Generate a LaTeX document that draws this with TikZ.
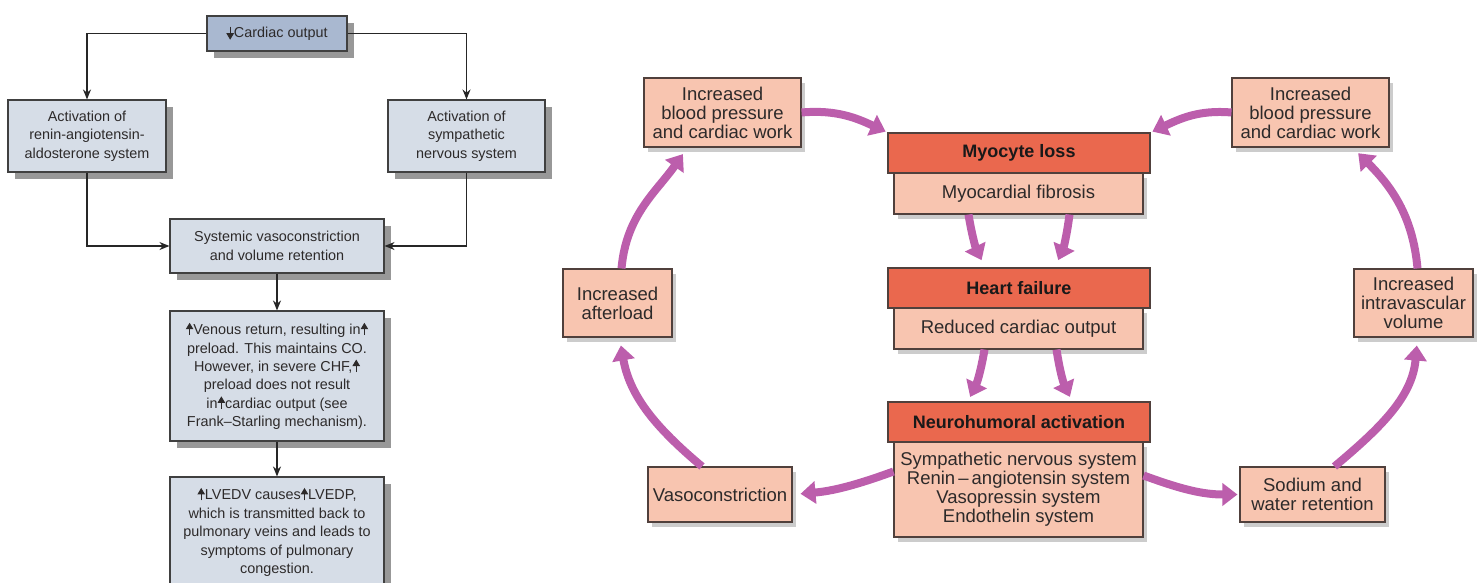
\documentclass[tikz,border=0pt]{standalone}
\usepackage{fontspec}
\setmainfont{Liberation Sans}
\usetikzlibrary{arrows.meta, shadows}

\definecolor{lfill}{RGB}{214,221,231}
\definecolor{cofill}{RGB}{169,184,208}
\definecolor{lshade}{RGB}{152,152,152}
\definecolor{pfill}{RGB}{248,197,176}
\definecolor{hfill}{RGB}{234,104,78}
\definecolor{rline}{RGB}{80,64,60}
\definecolor{flowc}{RGB}{188,94,172}
\definecolor{ink}{RGB}{45,42,42}

% small arrows inside the text
\newcommand{\upa}{\tikz[baseline=0pt]\draw[line width=0.9pt,-{Triangle[length=6.5pt,width=7.5pt]}] (0pt,-0.5pt) -- (0pt,12pt);}
\newcommand{\downa}{\tikz[baseline=0pt]\draw[line width=0.9pt,-{Triangle[length=6.5pt,width=7.5pt]}] (0pt,11pt) -- (0pt,-2pt);}

\begin{document}
\begin{tikzpicture}[
    x=1pt, y=1pt,
    lbox/.style={draw=black!75, line width=1.1pt, fill=lfill, text=ink, align=center, inner sep=0pt,
        font=\fontsize{14.4}{18.4}\selectfont,
        general shadow={fill=lshade, shadow xshift=7pt, shadow yshift=-7pt}},
    link/.style={line width=1.3pt, draw=black!85, -{Stealth[length=10pt,width=8pt]}},
    rbase/.style={draw=rline, line width=1.1pt, fill=pfill, text=ink, align=center, inner sep=0pt,
        font=\fontsize{18.5}{19}\selectfont},
    rbox/.style={rbase, general shadow={fill=black!20, shadow xshift=4pt, shadow yshift=-5pt}},
    head/.style={rbase, fill=hfill, text=black!90, font=\fontsize{18}{19}\selectfont\bfseries},
    flow/.style={draw=flowc, line width=8pt, shorten >=8pt, -{Triangle[length=15pt,width=22pt]}}
]
\useasboundingbox (0,0) rectangle (1478,-582);
\clip (0,0) rectangle (1478,-582);

% --- Left panel: flow chart ---
\node[lbox, fill=cofill, minimum width=140pt, minimum height=35pt] (co) at (277,-33.5) {\downa Cardiac output};
\node[lbox, minimum width=158pt, minimum height=72pt] (raas) at (87,-136) {Activation of\\renin-angiotensin-\\aldosterone system};
\node[lbox, minimum width=157pt, minimum height=72pt] (sns) at (466.5,-136) {Activation of\\sympathetic\\nervous system};
\node[lbox, minimum width=214pt, minimum height=54pt] (vasoret) at (277,-246) {Systemic vasoconstriction\\and volume retention};
\node[lbox, minimum width=214pt, minimum height=130pt] (venous) at (277,-376)
    {\upa Venous return, resulting in\upa\\preload. This maintains CO.\\However, in severe CHF,\upa\\preload does not result\\in\upa cardiac output (see\\Frank--Starling mechanism).};
\node[lbox, minimum width=214pt, minimum height=110pt] (lvedv) at (277,-532)
    {\upa LVEDV causes\upa LVEDP,\\which is transmitted back to\\pulmonary veins and leads to\\symptoms of pulmonary\\congestion.};

\draw[link] (co.west) -| (raas.north);
\draw[link] (co.east) -| (sns.north);
\draw[link] (raas.south) |- (vasoret.west);
\draw[link] (sns.south) |- (vasoret.east);
\draw[link] (vasoret.south) -- (venous.north);
\draw[link] (venous.south) -- (lvedv.north);

% --- Right panel: centre column ---
\node[rbox, minimum width=249pt, minimum height=41pt] (fib) at (1018.5,-193.5) {Myocardial fibrosis};
\node[head, minimum width=262pt, minimum height=40pt] (myo) at (1019,-153) {Myocyte loss};
\node[rbox, minimum width=249pt, minimum height=41pt] (rco) at (1018.5,-328.5) {Reduced cardiac output};
\node[head, minimum width=262pt, minimum height=40pt] (hf) at (1019,-288) {Heart failure};
\node[rbox, minimum width=249pt, minimum height=95pt] (sys) at (1018.5,-489.5)
    {Sympathetic nervous system\\Renin\,--\,angiotensin system\\Vasopressin system\\Endothelin system};
\node[head, minimum width=262pt, minimum height=40pt] (neuro) at (1019,-422) {Neurohumoral activation};

% --- Right panel: outer loop ---
\node[rbox, minimum width=157pt, minimum height=69pt] (bpL) at (722.5,-112.5) {Increased\\blood pressure\\and cardiac work};
\node[rbox, minimum width=157pt, minimum height=69pt] (bpR) at (1310.5,-112.5) {Increased\\blood pressure\\and cardiac work};
\node[rbox, minimum width=109pt, minimum height=68pt] (after) at (617.5,-303) {Increased\\afterload};
\node[rbox, minimum width=119pt, minimum height=68pt] (intra) at (1413.5,-303) {Increased\\intravascular\\volume};
\node[rbox, minimum width=144pt, minimum height=55pt] (vaso) at (720,-494.5) {Vasoconstriction};
\node[rbox, minimum width=145pt, minimum height=55pt] (sodium) at (1312.5,-494.5) {Sodium and\\water retention};

% --- Magenta arrows ---
\draw[flow, shorten >=2pt] (bpL.east) to[out=5, in=155] (myo.north west);
\draw[flow, shorten >=2pt] (bpR.west) to[out=175, in=25] (myo.north east);
\draw[flow] ([xshift=-50pt]fib.south) to[bend right=8] ([xshift=-34pt]hf.north);
\draw[flow] ([xshift=51pt]fib.south) to[bend left=8] ([xshift=36pt]hf.north);
\draw[flow, shorten >=5pt] ([xshift=-34pt]rco.south) to[bend left=8] ([xshift=-51pt]neuro.north);
\draw[flow, shorten >=5pt] ([xshift=38pt]rco.south) to[bend right=8] ([xshift=53pt]neuro.north);
\draw[flow] ([yshift=18pt]sys.west) to[out=200, in=5] (vaso.east);
\draw[flow, shorten >=2pt] ([yshift=14pt]sys.east) to[out=-20, in=180] (sodium.west);
\draw[flow] ([xshift=-18pt]vaso.north) to[out=140, in=-80] ([xshift=2pt]after.south);
\draw[flow] ([xshift=4pt]after.north) to[out=85, in=-125] ([xshift=-35pt]bpL.south);
\draw[flow] ([xshift=22pt]sodium.north) to[out=40, in=-95] ([xshift=4pt]intra.south);
\draw[flow] ([xshift=4pt]intra.north) to[out=95, in=-45] ([xshift=42pt]bpR.south);

\end{tikzpicture}
\end{document}
